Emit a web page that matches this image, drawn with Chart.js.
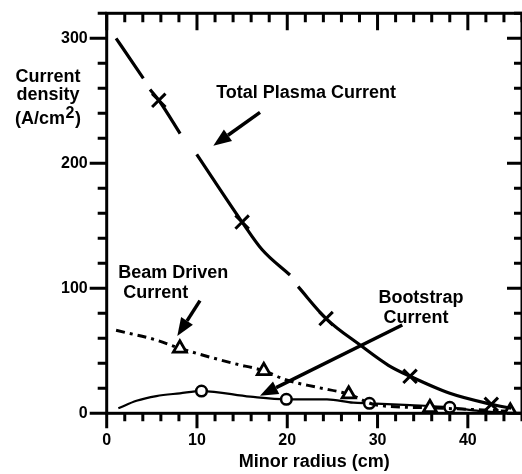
<!DOCTYPE html>
<html>
<head>
<meta charset="utf-8">
<script src="https://cdn.jsdelivr.net/npm/chart.js@4/dist/chart.umd.min.js"></script>
<style>
  html, body { margin: 0; padding: 0; background: #fff; }
  canvas { display: block; }
</style>
</head>
<body>
<canvas id="c" width="522" height="474"></canvas>
<script>
// Minor radius (cm) and current density (A/cm^2) for each profile.
// null entries break the drawn line; *Mark flags which points carry a symbol.
const totalR    = [1.04, 4.06, 4.4, 4.8, 5.77, 8.13, 9.0, 9.97, 15.0, 17.2, 20.3, 20.7, 21.2, 24.3, 28.1, 31.2, 33.6, 38.0, 42.6, 44.8];
const totalJ    = [300, 268, null, 259, 250.4, 223.8, null, 207.2, 153, 131, 110.6, null, 101.3, 75.8, 54.4, 38.4, 29.6, 16, 7.2, 4];
const totalMark = [0, 0, 0, 0, 1, 0, 0, 0, 1, 0, 0, 0, 0, 1, 0, 0, 1, 0, 1, 0];

const beamR    = [1.04, 5.5, 8.1, 14.0, 17.4, 19.9, 23.3, 26.8, 29.9, 35.8, 44.7];
const beamJ    = [66.4, 58.6, 52, 40, 34, 26.6, 20.8, 15.3, 6.6, 4.4, 1.6];
const beamMark = [0, 0, 1, 0, 1, 0, 0, 1, 0, 1, 1];

const bootR    = [1.29, 3.3, 5.5, 8.1, 10.5, 15.9, 19.9, 24.4, 27.3, 29.1, 33.6, 38.0, 41.3, 44.7];
const bootJ    = [4, 10, 13.8, 16, 17.8, 13.3, 11.2, 11.2, 8.5, 8, 6.6, 4.8, 1.8, 0.5];
const bootMark = [0, 0, 0, 0, 1, 0, 1, 0, 0, 1, 0, 1, 0, 0];

// Axis extents and labelled tick values
const xMax = 46, xStep = 2;
const yMax = 320, yStep = 20;
const xLabelValues = [0, 10, 20, 30, 40];
const yLabelValues = [0, 100, 200, 300];

const FONT = '"Liberation Sans", Arial, Helvetica, sans-serif';

function pts(r, j) { return r.map((v, i) => ({ x: v, y: j[i] })); }
function radii(mark, size) { return mark.map(m => (m ? size : 0)); }

// Boxed frame with inward ticks on top/right and outward ticks on left/bottom
const framePlugin = {
  id: 'frame',
  afterDraw(chart) {
    const { ctx, chartArea: a, scales: { x, y } } = chart;
    ctx.save();
    ctx.strokeStyle = '#000';
    ctx.lineWidth = 3;
    ctx.lineCap = 'butt';
    ctx.beginPath();
    for (let v = 0; v <= yMax; v += yStep) {
      const py = y.getPixelForValue(v);
      const major = v % 100 === 0;
      ctx.moveTo(a.left - (major ? 17 : 9), py); ctx.lineTo(a.left, py);
      ctx.moveTo(a.right - (major ? 15 : 8), py); ctx.lineTo(a.right, py);
    }
    for (let v = 0; v <= xMax; v += xStep) {
      const px = x.getPixelForValue(v);
      const major = v % 10 === 0;
      ctx.moveTo(px, a.bottom); ctx.lineTo(px, a.bottom + (major ? 15 : 8));
      ctx.moveTo(px, a.top); ctx.lineTo(px, a.top + (major ? 17 : 9));
    }
    ctx.stroke();
    ctx.strokeRect(a.left, a.top, a.right - a.left, a.bottom - a.top);
    ctx.restore();
  }
};

// Curve labels with pointer arrows (positioned in data units)
const labels = [
  { lines: ['Total Plasma Current'], x: 22.08, y: 252, align: 'center', dy: 0 },
  { lines: ['Beam Driven', 'Current'], x: 1.28, y: 108, align: 'left', dy: 20, indent: [0, 5] },
  { lines: ['Bootstrap', 'Current'], x: 34.8, y: 88, align: 'center', dy: 19.5, shift: [0, -5] }
];
const arrows = [
  { from: [16.98, 240.8], to: [11.81, 214.1] },
  { from: [10.33, 90.1], to: [7.82, 61.8] },
  { from: [32.74, 70.6], to: [16.98, 14.1] }
];

const notePlugin = {
  id: 'notes',
  afterDraw(chart) {
    const { ctx, scales: { x, y } } = chart;
    ctx.save();
    ctx.fillStyle = '#000';
    ctx.strokeStyle = '#000';
    ctx.font = 'bold 18px ' + FONT;
    ctx.textBaseline = 'alphabetic';
    labels.forEach(l => {
      ctx.textAlign = l.align;
      l.lines.forEach((t, i) => {
        const ox = (l.indent ? l.indent[i] : 0) + (l.shift ? l.shift[i] : 0);
        ctx.fillText(t, x.getPixelForValue(l.x) + ox, y.getPixelForValue(l.y) + i * l.dy);
      });
    });
    arrows.forEach(a => {
      const x0 = x.getPixelForValue(a.from[0]), y0 = y.getPixelForValue(a.from[1]);
      const x1 = x.getPixelForValue(a.to[0]), y1 = y.getPixelForValue(a.to[1]);
      const ang = Math.atan2(y1 - y0, x1 - x0);
      const hl = 18, hw = 7;
      const bx = x1 - hl * Math.cos(ang), by = y1 - hl * Math.sin(ang);
      ctx.lineWidth = 3.5;
      ctx.beginPath(); ctx.moveTo(x0, y0); ctx.lineTo(bx, by); ctx.stroke();
      ctx.beginPath();
      ctx.moveTo(x1, y1);
      ctx.lineTo(bx + hw * Math.sin(ang), by - hw * Math.cos(ang));
      ctx.lineTo(bx - hw * Math.sin(ang), by + hw * Math.cos(ang));
      ctx.closePath(); ctx.fill();
    });

    // Vertical-axis caption, set horizontally left of the axis
    const cx = 48;
    ctx.textAlign = 'center';
    ctx.fillText('Current', cx, 81.7);
    ctx.fillText('density', cx, 99.5);
    const main = '(A/cm', sup = '2', close = ')';
    ctx.font = 'bold 18px ' + FONT;
    const w1 = ctx.measureText(main).width, w3 = ctx.measureText(close).width;
    ctx.font = 'bold 16px ' + FONT;
    const w2 = ctx.measureText(sup).width + 1;
    const start = cx - (w1 + w2 + w3) / 2;
    ctx.textAlign = 'left';
    ctx.font = 'bold 18px ' + FONT;
    ctx.fillText(main, start, 124);
    ctx.font = 'bold 16px ' + FONT;
    ctx.fillText(sup, start + w1 + 0.5, 118.3);
    ctx.font = 'bold 18px ' + FONT;
    ctx.fillText(close, start + w1 + w2, 124);
    ctx.restore();
  }
};

new Chart(document.getElementById('c'), {
  type: 'line',
  data: {
    datasets: [
      {
        label: 'Total Plasma Current',
        data: pts(totalR, totalJ),
        borderColor: '#000', borderWidth: 3.2,
        pointStyle: 'crossRot', pointRadius: radii(totalMark, 9.5),
        pointBorderWidth: 3, pointBorderColor: '#000', pointBackgroundColor: '#000',
        cubicInterpolationMode: 'monotone', spanGaps: false
      },
      {
        label: 'Beam Driven Current',
        data: pts(beamR, beamJ),
        borderColor: '#000', borderWidth: 3, borderDash: [9, 5, 3, 5],
        pointStyle: 'triangle', pointRadius: radii(beamMark, 7.5),
        pointBorderWidth: 2.8, pointBorderColor: '#000', pointBackgroundColor: '#fff',
        cubicInterpolationMode: 'monotone'
      },
      {
        label: 'Bootstrap Current',
        data: pts(bootR, bootJ),
        borderColor: '#000', borderWidth: 2.2,
        pointStyle: 'circle', pointRadius: radii(bootMark, 5.3),
        pointBorderWidth: 2.5, pointBorderColor: '#000', pointBackgroundColor: '#fff',
        cubicInterpolationMode: 'monotone'
      }
    ]
  },
  options: {
    responsive: false,
    animation: false,
    events: [],
    layout: { autoPadding: false, padding: { top: 13.3, right: 0, bottom: 0, left: 0 } },
    plugins: { legend: { display: false }, tooltip: { enabled: false } },
    scales: {
      x: {
        type: 'linear', min: 0, max: xMax,
        grid: { display: false, drawTicks: false },
        border: { display: false },
        ticks: {
          stepSize: xStep, autoSkip: false, maxRotation: 0, padding: 18,
          color: '#000', font: { family: FONT, weight: 'bold', size: 16 },
          callback: v => (xLabelValues.includes(v) ? String(v) : '')
        },
        title: {
          display: true, text: 'Minor radius (cm)', color: '#000',
          font: { family: FONT, weight: 'bold', size: 18 },
          padding: { top: 0, bottom: 1.5 }
        },
        afterFit: s => { s.height = 60.7; s.paddingLeft = 0; s.paddingRight = 0; }
      },
      y: {
        type: 'linear', min: 0, max: yMax,
        grid: { display: false, drawTicks: false },
        border: { display: false },
        ticks: {
          stepSize: yStep, autoSkip: false, padding: 19,
          color: '#000', font: { family: FONT, weight: 'bold', size: 16 },
          callback: v => (yLabelValues.includes(v) ? String(v) : '')
        },
        afterFit: s => { s.width = 106.7; s.paddingTop = 0; s.paddingBottom = 0; }
      }
    }
  },
  plugins: [framePlugin, notePlugin]
});
</script>
</body>
</html>
